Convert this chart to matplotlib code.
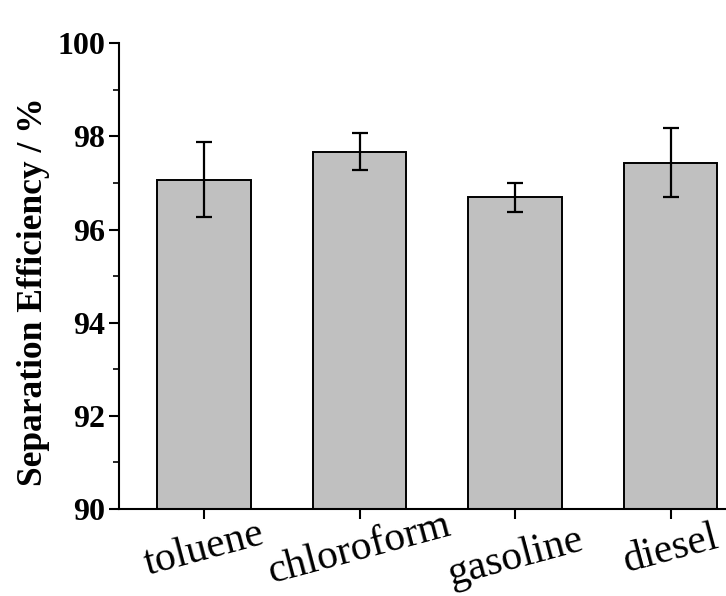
import matplotlib
matplotlib.use("Agg")
import matplotlib.pyplot as plt
from matplotlib.ticker import MultipleLocator
from matplotlib.transforms import ScaledTranslation

categories = ["toluene", "chloroform", "gasoline", "diesel"]
efficiency = [97.07, 97.67, 96.69, 97.44]
errors = [0.80, 0.40, 0.32, 0.75]
yticks = [90, 92, 94, 96, 98, 100]

plt.rcParams['font.family'] = ['Liberation Serif', 'DejaVu Serif']

fig = plt.figure(figsize=(7.26, 5.96), dpi=100)
ax = fig.add_axes([119/726, 1-509/596, (745-119)/726, (509-43.3)/596])

x = list(range(len(categories)))
ax.bar(x, efficiency, width=0.6, color='#c0c0c0', edgecolor='black', linewidth=1.4,
       yerr=errors, capsize=6, error_kw=dict(elinewidth=1.6, capthick=1.6, ecolor='black'))

ax.set_ylim(90, 100)
ax.set_xlim(-0.547, (745-204)/155.5)
ax.set_yticks(yticks)
ax.yaxis.set_minor_locator(MultipleLocator(1))
ax.set_xticks(x)
ax.set_xticklabels(categories, rotation=15, fontsize=30, ha='center', va='center',
                   rotation_mode='anchor')
ax.tick_params(axis='x', direction='out', length=7, width=1.5, pad=22)
ax.tick_params(axis='y', which='major', direction='out', length=7, width=1.5, labelsize=23, pad=3)
ax.tick_params(axis='y', which='minor', direction='out', length=4, width=1.2)
for lbl in ax.get_yticklabels():
    lbl.set_fontweight('bold')
ax.set_ylabel("Separation Efficiency / %", fontsize=25.5, fontweight='bold')
ax.yaxis.set_label_coords(-0.111, 0.466)

# gasoline label sits slightly lower in the reference
glab = ax.get_xticklabels()[2]
glab.set_transform(glab.get_transform() + ScaledTranslation(0, -0.08, fig.dpi_scale_trans))

for s in ['top', 'right']:
    ax.spines[s].set_visible(False)
for s in ['left', 'bottom']:
    ax.spines[s].set_linewidth(1.5)

fig.savefig("out.png", dpi=100)
